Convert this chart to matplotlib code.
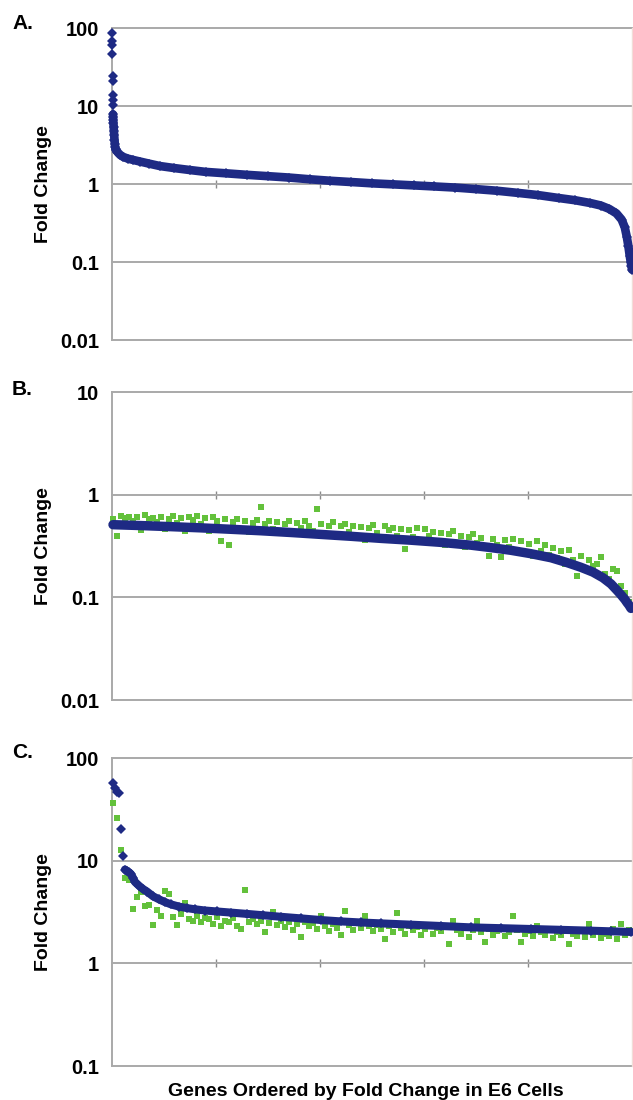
import numpy as np
import matplotlib
matplotlib.use("Agg")
import matplotlib.pyplot as plt
from matplotlib.ticker import FixedLocator, FixedFormatter, NullLocator

plt.rcParams['font.family'] = ['Liberation Sans', 'DejaVu Sans']
plt.rcParams['font.weight'] = 'bold'

# ---------------- data ----------------
# Panel A: all genes, ordered by fold change in E6 cells (rank out of 5000)
rank_a = [1, 2, 3, 4, 5, 6, 7, 8, 9, 10, 11, 12, 14, 16, 18, 21, 24, 27, 30, 35,
          40, 50, 60, 80, 110, 150, 200, 270, 360, 460, 600, 750, 900, 1100, 1300,
          1500, 1700, 1900, 2100, 2300, 2500, 2700, 2900, 3100, 3300, 3500, 3700,
          3900, 4100, 4300, 4450, 4600, 4700, 4780, 4850, 4900, 4930, 4950, 4965,
          4978, 4988, 4995, 5000]
fold_a = [87, 68, 60, 47, 24, 21, 13.8, 11.9, 10.2, 7.8, 7.2, 6.6, 6.0, 5.4, 4.8,
          4.2, 3.7, 3.3, 3.0, 2.8, 2.7, 2.6, 2.5, 2.35, 2.22, 2.12, 2.04, 1.94,
          1.82, 1.70, 1.60, 1.51, 1.43, 1.37, 1.31, 1.26, 1.21, 1.15, 1.10, 1.06,
          1.02, 0.99, 0.96, 0.93, 0.90, 0.86, 0.82, 0.77, 0.72, 0.66, 0.62, 0.57,
          0.53, 0.48, 0.42, 0.35, 0.28, 0.21, 0.16, 0.12, 0.10, 0.088, 0.08]

# Panel B: down-regulated genes (rank out of 260)
rank_b_e6 = [1, 15, 30, 45, 60, 75, 90, 105, 120, 135, 150, 165, 180, 190, 200,
             210, 220, 228, 235, 241, 246, 250, 253, 255, 257, 258, 259, 260]
fold_b_e6 = [0.51, 0.50, 0.488, 0.475, 0.46, 0.445, 0.428, 0.41, 0.393, 0.375,
             0.36, 0.343, 0.322, 0.305, 0.287, 0.266, 0.243, 0.218, 0.196, 0.176,
             0.155, 0.135, 0.117, 0.106, 0.095, 0.089, 0.084, 0.078]
fold_b_cmp = [0.58, 0.40, 0.62, 0.59, 0.61, 0.55, 0.60, 0.45, 0.63, 0.58,
              0.59, 0.54, 0.61, 0.46, 0.58, 0.62, 0.53, 0.59, 0.44, 0.60,
              0.57, 0.62, 0.52, 0.59, 0.44, 0.60, 0.55, 0.355, 0.58, 0.32,
              0.54, 0.58, 0.46, 0.56, 0.43, 0.53, 0.57, 0.75, 0.52, 0.56,
              0.46, 0.54, 0.42, 0.52, 0.56, 0.41, 0.53, 0.47, 0.55, 0.50,
              0.44, 0.73, 0.52, 0.40, 0.49, 0.54, 0.39, 0.50, 0.52, 0.43,
              0.49, 0.40, 0.48, 0.36, 0.47, 0.51, 0.42, 0.38, 0.49, 0.45,
              0.47, 0.40, 0.46, 0.295, 0.45, 0.39, 0.47, 0.36, 0.46, 0.40,
              0.43, 0.35, 0.42, 0.32, 0.41, 0.44, 0.34, 0.40, 0.31, 0.39,
              0.41, 0.34, 0.38, 0.30, 0.25, 0.37, 0.32, 0.245, 0.36, 0.31,
              0.37, 0.29, 0.35, 0.27, 0.33, 0.25, 0.355, 0.28, 0.32, 0.26,
              0.30, 0.24, 0.28, 0.21, 0.29, 0.23, 0.16, 0.25, 0.19, 0.23,
              0.20, 0.21, 0.245, 0.17, 0.15, 0.19, 0.18, 0.13, 0.11, 0.09]

# Panel C: up-regulated genes (rank out of 260)
rank_c_e6 = [1, 2, 3, 4, 5, 6, 7, 8, 9, 10, 11, 12, 14, 16, 18, 21, 24, 27, 30, 34,
             38, 42, 47, 53, 60, 68, 76, 85, 95, 105, 115, 125, 135, 150, 165, 180,
             195, 210, 225, 240, 250, 260]
fold_c_e6 = [57, 51, 47, 46, 20.5, 11.2, 8.2, 7.9, 7.7, 7.4, 6.8, 6.2, 5.7, 5.3,
             5.0, 4.5, 4.2, 3.95, 3.75, 3.57, 3.45, 3.36, 3.27, 3.20, 3.12, 3.03,
             2.94, 2.84, 2.74, 2.64, 2.56, 2.50, 2.45, 2.38, 2.31, 2.24, 2.20, 2.16,
             2.12, 2.08, 2.05, 2.02]
fold_c_cmp = [36.6, 26, 12.6, 6.8, 6.5, 3.4, 4.4, 4.9, 3.6, 3.7,
              2.35, 3.3, 2.9, 5.07, 4.7, 2.8, 2.35, 3.0, 3.9, 2.7,
              2.6, 2.9, 2.5, 2.75, 2.69, 2.4, 2.85, 2.32, 2.6, 2.5,
              2.75, 2.3, 2.15, 5.2, 2.55, 2.7, 2.4, 2.6, 2.0, 2.45,
              3.16, 2.35, 2.6, 2.25, 2.5, 2.1, 2.4, 1.82, 2.55, 2.3,
              2.45, 2.15, 2.9, 2.3, 2.05, 2.4, 2.2, 1.9, 3.24, 2.35,
              2.1, 2.45, 2.2, 2.9, 2.3, 2.05, 2.35, 2.15, 1.72, 2.3,
              2.0, 3.1, 2.2, 1.95, 2.3, 2.1, 2.25, 1.9, 2.15, 2.3,
              1.95, 2.2, 2.05, 2.3, 1.55, 2.6, 2.1, 1.95, 2.2, 1.8,
              2.1, 2.6, 2.0, 1.6, 2.15, 1.9, 2.05, 2.2, 1.85, 2.0,
              2.9, 2.1, 1.6, 1.95, 2.05, 1.85, 2.3, 2.0, 1.9, 2.1,
              1.75, 2.0, 1.9, 2.05, 1.55, 1.95, 1.85, 2.1, 1.8, 2.4,
              1.9, 2.05, 1.75, 1.95, 1.85, 2.15, 1.72, 2.4, 1.9, 2.1]

n_sub = 260
rank_cmp = np.arange(1, n_sub + 1, 2)  # comparison series plotted for every other gene

yt_a = [0.01, 0.1, 1, 10, 100]
yl_a = ['0.01', '0.1', '1', '10', '100']
yt_b = [0.01, 0.1, 1, 10]
yl_b = ['0.01', '0.1', '1', '10']
yt_c = [0.1, 1, 10, 100]
yl_c = ['0.1', '1', '10', '100']

# ---------------- styling ----------------
W, H = 633, 1100
BLUE = '#1e2a84'
GREEN = '#63c13b'
GRID = '#a9a9a9'

fig = plt.figure(figsize=(W / 100, H / 100), dpi=100)


def px_rect(left, top, right, bottom):
    return [left / W, 1 - bottom / H, (right - left) / W, (bottom - top) / H]


def make_panel(rect, ylim, yticks, ylabels, xlim, xticks):
    ax = fig.add_axes(rect)
    ax.set_yscale('log')
    ax.set_ylim(*ylim)
    ax.set_xlim(*xlim)
    ax.yaxis.set_major_locator(FixedLocator(yticks))
    ax.yaxis.set_major_formatter(FixedFormatter(ylabels))
    ax.yaxis.set_minor_locator(NullLocator())
    ax.tick_params(axis='y', length=0, pad=9.5, labelsize=14.5)
    ax.grid(axis='y', color=GRID, lw=1.4)
    for gl in ax.get_ygridlines():
        gl.set_clip_on(False)
    ax.set_axisbelow(True)
    ax.spines['left'].set_color(GRID)
    ax.spines['left'].set_linewidth(1.4)
    ax.spines['top'].set_visible(False)
    ax.spines['right'].set_color('#f1ddd8')
    ax.spines['right'].set_linewidth(1.0)
    ax.spines['bottom'].set_position(('data', 1.0))
    ax.spines['bottom'].set_visible(False)
    ax.xaxis.set_major_locator(FixedLocator(xticks))
    ax.xaxis.set_minor_locator(NullLocator())
    ax.tick_params(axis='x', direction='inout', length=6, width=1.0,
                   color='#8a8a8a', labelbottom=False)
    for lab in ax.get_yticklabels():
        lab.set_fontweight('bold')
    return ax


def draw_e6(ax, ranks, folds, line_max, lw, ms):
    r = np.asarray(ranks, float)
    f = np.asarray(folds, float)
    m = f <= line_max
    ax.plot(r[m], f[m], '-', color=BLUE, lw=lw, solid_capstyle='round',
            clip_on=False, zorder=4)
    ax.plot(r, f, 'D', color=BLUE, ms=ms, mew=0, clip_on=False, zorder=5)


# Panel A
axA = make_panel(px_rect(112, 28, 632, 340), (0.01, 100), yt_a, yl_a,
                 (0, 5000), [1000, 2000, 3000, 4000])
draw_e6(axA, rank_a, fold_a, 8.0, 6.2, 5.0)

# Panel B
axB = make_panel(px_rect(112, 392, 632, 700), (0.01, 10), yt_b, yl_b,
                 (0.5, n_sub + 0.5), [52.5, 104.5, 156.5, 208.5])
axB.plot(rank_cmp, fold_b_cmp, 's', color=GREEN, ms=4.4, mew=0, clip_on=False, zorder=3)
draw_e6(axB, rank_b_e6, fold_b_e6, 100, 6.8, 4.5)

# Panel C
axC = make_panel(px_rect(112, 758, 632, 1066), (0.1, 100), yt_c, yl_c,
                 (0.5, n_sub + 0.5), [52.5, 104.5, 156.5, 208.5])
axC.plot(rank_cmp, fold_c_cmp, 's', color=GREEN, ms=4.4, mew=0, clip_on=False, zorder=3)
draw_e6(axC, rank_c_e6, fold_c_e6, 8.5, 5.8, 4.8)

# Texts
lab_kw = dict(fontsize=15, fontweight='bold', ha='left', va='baseline')
fig.text(12 / W, 1 - 29 / H, 'A.', **lab_kw)
fig.text(12 / W, 1 - 395 / H, 'B.', **lab_kw)
fig.text(12 / W, 1 - 758 / H, 'C.', **lab_kw)

for yc in (184, 546, 912):
    fig.text(44 / W, 1 - yc / H, 'Fold Change', rotation=90, ha='center',
             va='center', fontsize=14, fontweight='bold')

fig.text(366 / W, 1 - 1096 / H, 'Genes Ordered by Fold Change in E6 Cells',
         ha='center', va='baseline', fontsize=14, fontweight='bold')

fig.savefig('out.png', dpi=100)
